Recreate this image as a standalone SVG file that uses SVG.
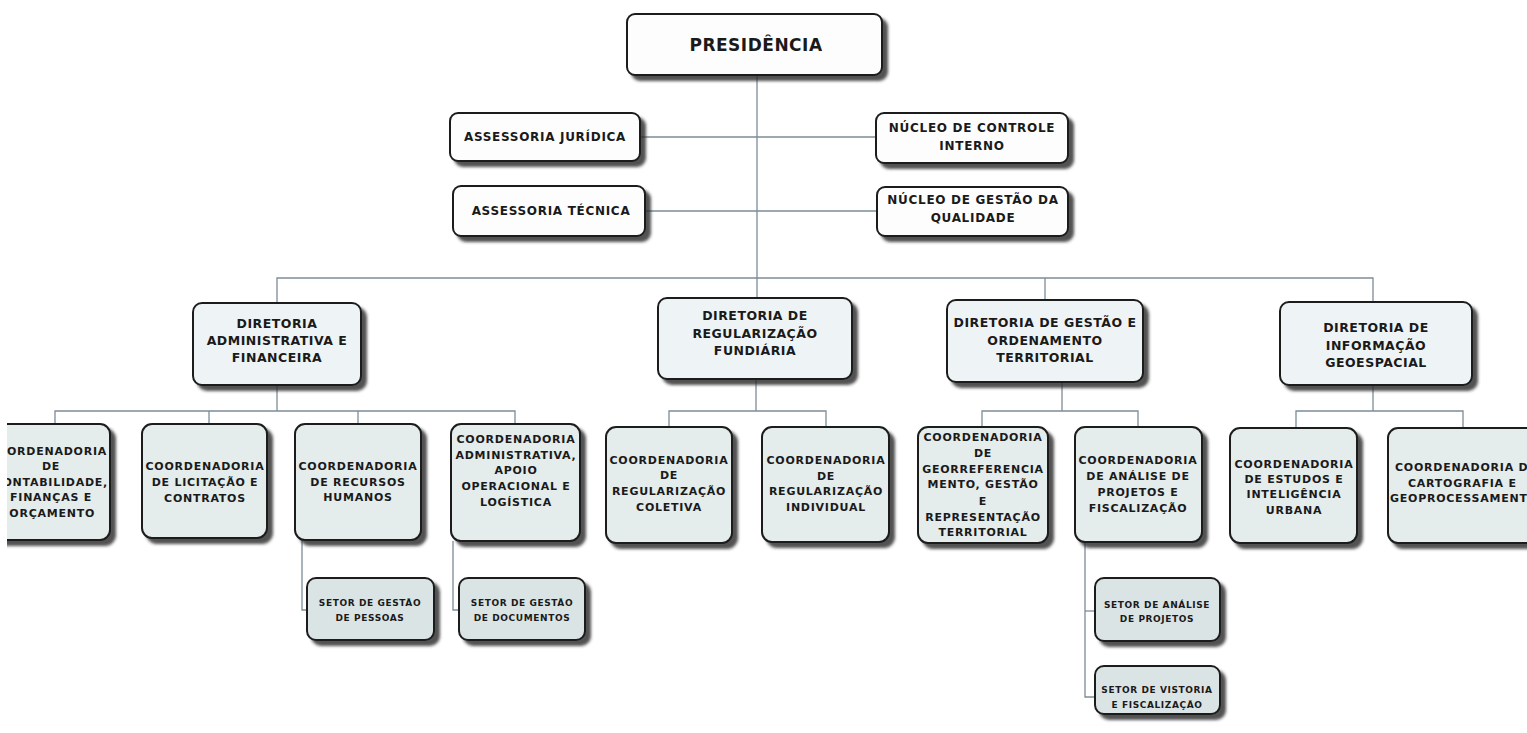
<svg xmlns="http://www.w3.org/2000/svg" width="1527" height="733" viewBox="0 0 1527 733">
<defs>
<filter id="sh" x="-10%" y="-10%" width="130%" height="140%">
<feDropShadow dx="5" dy="5" stdDeviation="1.6" flood-color="#262626" flood-opacity="0.8"/>
</filter>
<clipPath id="clipL"><rect x="7" y="0" width="1520" height="733"/></clipPath>
</defs>
<style>
.b{stroke:#1e1e1e;stroke-width:2;filter:url(#sh)}
.b0{fill:#fdfdfd}
.b1{fill:#fdfdfd}
.b2{fill:#eef4f5}
.b3{fill:#e4ecec}
.b4{fill:#dbe4e5}
text{font-family:"DejaVu Sans","Liberation Sans",sans-serif;font-weight:bold;fill:#1a1a1a;text-anchor:middle}
.t0{font-size:17px;letter-spacing:0.5px}
.t1{font-size:12px;letter-spacing:0.7px}
.t2{font-size:12.5px;letter-spacing:0.5px}
.t3{font-size:11px;letter-spacing:0.75px}
.t4{font-size:9px;letter-spacing:0.6px}
.e{text-anchor:end}
.s{text-anchor:start}
.c{fill:none;stroke:#7d8c97;stroke-width:1.3}
</style>
<rect width="1527" height="733" fill="#ffffff"/>

<g id="connectors">
<path class="c" d="M757 75 V298"/>
<path class="c" d="M640 137 H876"/>
<path class="c" d="M645 211 H877"/>
<path class="c" d="M277 303 V278 H1373 V302"/>
<path class="c" d="M1045 278 V300"/>
<path class="c" d="M277 385 V411"/>
<path class="c" d="M55 424 V411 H515 V424"/>
<path class="c" d="M209 411 V424"/>
<path class="c" d="M358 411 V424"/>
<path class="c" d="M756 379 V411"/>
<path class="c" d="M669 427 V411 H826 V427"/>
<path class="c" d="M1062 382 V411"/>
<path class="c" d="M982 427 V411 H1138 V427"/>
<path class="c" d="M1373 385 V411"/>
<path class="c" d="M1296 428 V411 H1463 V428"/>
<path class="c" d="M302 540 V610 H307"/>
<path class="c" d="M453 541 V610 H459"/>
<path class="c" d="M1085 542 V697 H1095"/>
<path class="c" d="M1085 611 H1095"/>
</g>

<g id="presidencia">
<rect class="b b0" x="627" y="14" width="255" height="61" rx="8"/>
<text class="t0" x="756" y="51">PRESIDÊNCIA</text>
</g>

<g id="assessoria-juridica">
<rect class="b b1" x="450" y="113" width="190" height="48" rx="8"/>
<text class="t1" x="545" y="141">ASSESSORIA JURÍDICA</text>
</g>
<g id="nucleo-controle-interno">
<rect class="b b1" x="876" y="113" width="192" height="50" rx="8"/>
<text class="t1" x="972" y="132">NÚCLEO DE CONTROLE</text>
<text class="t1" x="972" y="150">INTERNO</text>
</g>
<g id="assessoria-tecnica">
<rect class="b b1" x="453" y="186" width="192" height="50" rx="8"/>
<text class="t1" x="551" y="215">ASSESSORIA TÉCNICA</text>
</g>
<g id="nucleo-gestao-qualidade">
<rect class="b b1" x="877" y="187" width="191" height="49" rx="8"/>
<text class="t1" x="973" y="204">NÚCLEO DE GESTÃO DA</text>
<text class="t1" x="973" y="222">QUALIDADE</text>
</g>

<g id="dir-adm-fin">
<rect class="b b2" x="193" y="303" width="168" height="82" rx="9"/>
<text class="t2" x="277" y="328">DIRETORIA</text>
<text class="t2" x="277" y="345">ADMINISTRATIVA E</text>
<text class="t2" x="277" y="362">FINANCEIRA</text>
</g>
<g id="dir-reg-fund">
<rect class="b b2" x="658" y="298" width="194" height="81" rx="9"/>
<text class="t2" x="755" y="320">DIRETORIA DE</text>
<text class="t2" x="755" y="338">REGULARIZAÇÃO</text>
<text class="t2" x="755" y="355">FUNDIÁRIA</text>
</g>
<g id="dir-gestao-ord">
<rect class="b b2" x="947" y="300" width="196" height="82" rx="9"/>
<text class="t2" x="1045" y="327">DIRETORIA DE GESTÃO E</text>
<text class="t2" x="1045" y="345">ORDENAMENTO</text>
<text class="t2" x="1045" y="362">TERRITORIAL</text>
</g>
<g id="dir-info-geo">
<rect class="b b2" x="1280" y="302" width="192" height="83" rx="9"/>
<text class="t2" x="1376" y="332">DIRETORIA DE</text>
<text class="t2" x="1376" y="350">INFORMAÇÃO</text>
<text class="t2" x="1376" y="367">GEOESPACIAL</text>
</g>

<g id="coord-contabilidade" clip-path="url(#clipL)">
<rect class="b b3" x="-20" y="424" width="130" height="116" rx="10"/>
<text class="t3 e" x="107" y="455">ORDENADORIA</text>
<text class="t3" x="51" y="470">DE</text>
<text class="t3 e" x="108" y="486">ONTABILIDADE,</text>
<text class="t3" x="51" y="501">FINANÇAS E</text>
<text class="t3 e" x="95" y="517">ORÇAMENTO</text>
</g>
<g id="coord-licitacao">
<rect class="b b3" x="142" y="424" width="125" height="114" rx="10"/>
<text class="t3" x="205" y="470">COORDENADORIA</text>
<text class="t3" x="205" y="486">DE LICITAÇÃO E</text>
<text class="t3" x="205" y="502">CONTRATOS</text>
</g>
<g id="coord-rh">
<rect class="b b3" x="295" y="424" width="126" height="116" rx="10"/>
<text class="t3" x="358" y="470">COORDENADORIA</text>
<text class="t3" x="358" y="486">DE RECURSOS</text>
<text class="t3" x="358" y="501">HUMANOS</text>
</g>
<g id="coord-adm-apoio">
<rect class="b b3" x="451" y="424" width="129" height="117" rx="10"/>
<text class="t3" x="516" y="443">COORDENADORIA</text>
<text class="t3" x="516" y="459">ADMINISTRATIVA,</text>
<text class="t3" x="516" y="474">APOIO</text>
<text class="t3" x="516" y="490">OPERACIONAL E</text>
<text class="t3" x="516" y="506">LOGÍSTICA</text>
</g>
<g id="coord-reg-coletiva">
<rect class="b b3" x="606" y="427" width="126" height="116" rx="10"/>
<text class="t3" x="669" y="464">COORDENADORIA</text>
<text class="t3" x="669" y="479">DE</text>
<text class="t3" x="669" y="495">REGULARIZAÇÃO</text>
<text class="t3" x="669" y="511">COLETIVA</text>
</g>
<g id="coord-reg-individual">
<rect class="b b3" x="762" y="427" width="127" height="115" rx="10"/>
<text class="t3" x="826" y="464">COORDENADORIA</text>
<text class="t3" x="826" y="480">DE</text>
<text class="t3" x="826" y="495">REGULARIZAÇÃO</text>
<text class="t3" x="826" y="511">INDIVIDUAL</text>
</g>
<g id="coord-georref">
<rect class="b b3" x="918" y="427" width="130" height="116" rx="10"/>
<text class="t3" x="983" y="441">COORDENADORIA</text>
<text class="t3" x="983" y="457">DE</text>
<text class="t3" x="983" y="473">GEORREFERENCIA</text>
<text class="t3" x="983" y="488">MENTO, GESTÃO</text>
<text class="t3" x="983" y="505">E</text>
<text class="t3" x="983" y="521">REPRESENTAÇÃO</text>
<text class="t3" x="983" y="536">TERRITORIAL</text>
</g>
<g id="coord-analise">
<rect class="b b3" x="1075" y="427" width="127" height="115" rx="10"/>
<text class="t3" x="1138" y="464">COORDENADORIA</text>
<text class="t3" x="1138" y="480">DE ANÁLISE DE</text>
<text class="t3" x="1138" y="496">PROJETOS E</text>
<text class="t3" x="1138" y="512">FISCALIZAÇÃO</text>
</g>
<g id="coord-estudos">
<rect class="b b3" x="1230" y="428" width="127" height="115" rx="10"/>
<text class="t3" x="1294" y="468">COORDENADORIA</text>
<text class="t3" x="1294" y="483">DE ESTUDOS E</text>
<text class="t3" x="1294" y="498">INTELIGÊNCIA</text>
<text class="t3" x="1294" y="514">URBANA</text>
</g>
<g id="coord-cartografia">
<rect class="b b3" x="1388" y="428" width="160" height="115" rx="10"/>
<text class="t3 s" x="1395" y="471">COORDENADORIA D</text>
<text class="t3 s" x="1408" y="487">CARTOGRAFIA E</text>
<text class="t3 s" x="1390" y="502">GEOPROCESSAMENT</text>
</g>

<g id="setor-pessoas">
<rect class="b b4" x="307" y="578" width="127" height="62" rx="9"/>
<text class="t4" x="370" y="606">SETOR DE GESTÃO</text>
<text class="t4" x="370" y="621">DE PESSOAS</text>
</g>
<g id="setor-documentos">
<rect class="b b4" x="459" y="578" width="126" height="62" rx="9"/>
<text class="t4" x="522" y="606">SETOR DE GESTÃO</text>
<text class="t4" x="522" y="621">DE DOCUMENTOS</text>
</g>
<g id="setor-analise-projetos">
<rect class="b b4" x="1095" y="578" width="125" height="63" rx="9"/>
<text class="t4" x="1157" y="608">SETOR DE ANÁLISE</text>
<text class="t4" x="1157" y="622">DE PROJETOS</text>
</g>
<g id="setor-vistoria">
<rect class="b b4" x="1095" y="666" width="125" height="48" rx="9"/>
<text class="t4" x="1157" y="693">SETOR DE VISTORIA</text>
<text class="t4" x="1157" y="708">E FISCALIZAÇÃO</text>
</g>
</svg>
